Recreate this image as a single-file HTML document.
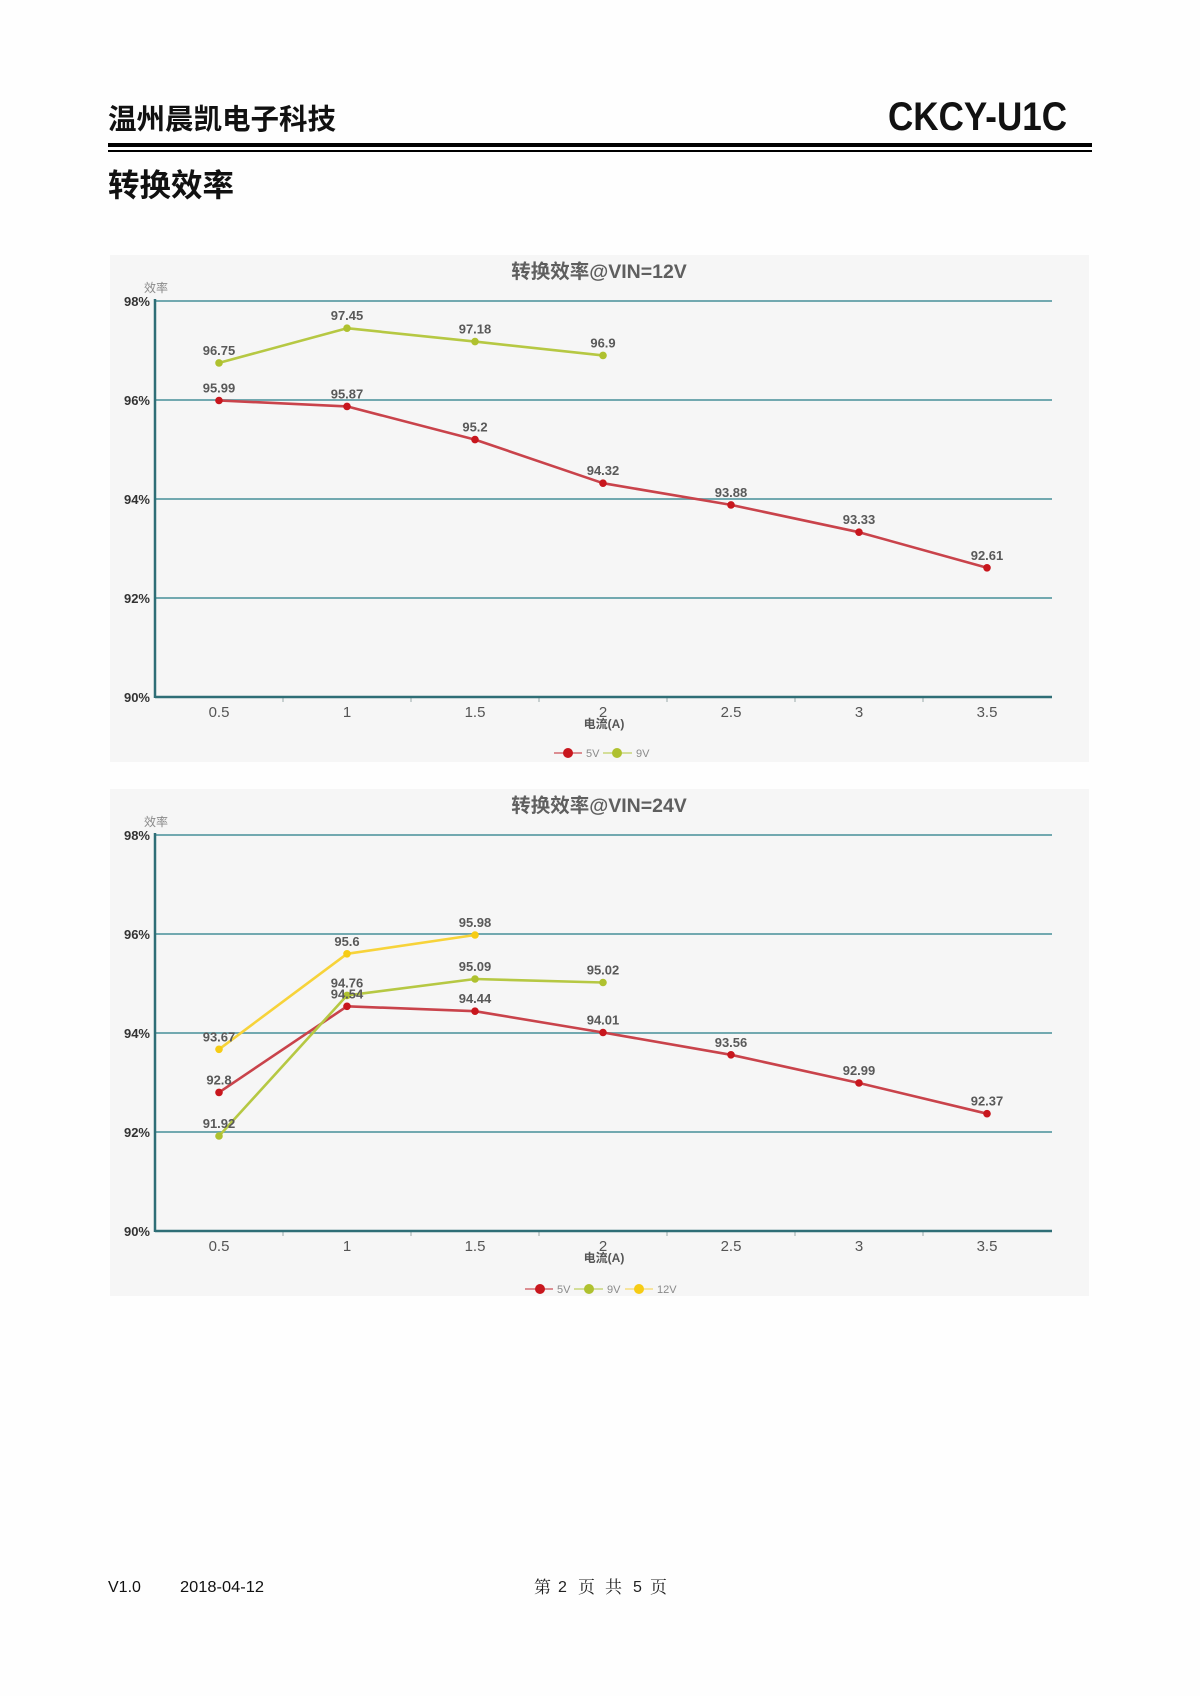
<!DOCTYPE html>
<html>
<head>
<meta charset="utf-8">
<style>
  html,body{margin:0;padding:0;background:#fefefe;}
  body{width:1200px;height:1696px;overflow:hidden;}
  svg{display:block;}
</style>
</head>
<body>
<svg width="1200" height="1696" viewBox="0 0 1200 1696" xmlns="http://www.w3.org/2000/svg" font-family="Liberation Sans, Noto Sans CJK SC, sans-serif">
  <rect x="0" y="0" width="1200" height="1696" fill="#fefefe"/>

  <!-- Header -->
  <text x="108" y="129" font-size="28.5" font-weight="700" fill="#111" font-family="Noto Sans CJK SC, sans-serif">温州晨凯电子科技</text>
  <text x="888" y="130" font-size="40" font-weight="700" fill="#111" textLength="179" lengthAdjust="spacingAndGlyphs">CKCY-U1C</text>
  <rect x="108" y="143" width="984" height="4" fill="#000"/>
  <rect x="108" y="150" width="984" height="2" fill="#000"/>
  <text x="108" y="196" font-size="31.5" font-weight="700" fill="#111" font-family="Noto Sans CJK SC, sans-serif">转换效率</text>

  <!-- ============ CHART 1 ============ -->
  <rect x="110" y="255" width="979" height="507" fill="#f6f6f6"/>
  <text x="599" y="278" font-size="19.5" font-weight="700" fill="#5f5f5f" text-anchor="middle">转换效率@VIN=12V</text>
  <text x="156" y="292" font-size="12" fill="#8a8a8a" text-anchor="middle" font-family="Noto Sans CJK SC, sans-serif">效率</text>
  <g stroke="#72a9b0" stroke-width="2">
    <line x1="155" y1="301" x2="1052" y2="301"/>
    <line x1="155" y1="400" x2="1052" y2="400"/>
    <line x1="155" y1="499" x2="1052" y2="499"/>
    <line x1="155" y1="598" x2="1052" y2="598"/>
  </g>
  <g font-size="13" font-weight="700" fill="#333" text-anchor="end">
    <text x="150" y="306">98%</text>
    <text x="150" y="405">96%</text>
    <text x="150" y="504">94%</text>
    <text x="150" y="603">92%</text>
    <text x="150" y="702">90%</text>
  </g>
  <g stroke="#9aa" stroke-width="1">
    <line x1="283" y1="697" x2="283" y2="702"/>
    <line x1="411" y1="697" x2="411" y2="702"/>
    <line x1="539" y1="697" x2="539" y2="702"/>
    <line x1="667" y1="697" x2="667" y2="702"/>
    <line x1="795" y1="697" x2="795" y2="702"/>
    <line x1="923" y1="697" x2="923" y2="702"/>
  </g>
  <line x1="155" y1="697" x2="1052" y2="697" stroke="#2f6e76" stroke-width="2.5"/>
  <line x1="155" y1="299" x2="155" y2="698" stroke="#2f6e76" stroke-width="2.5"/>
  <g font-size="15" fill="#555" text-anchor="middle">
    <text x="219" y="717">0.5</text>
    <text x="347" y="717">1</text>
    <text x="475" y="717">1.5</text>
    <text x="603" y="717">2</text>
    <text x="731" y="717">2.5</text>
    <text x="859" y="717">3</text>
    <text x="987" y="717">3.5</text>
  </g>
  <text x="604" y="728" font-size="12" font-weight="700" fill="#555" text-anchor="middle">电流(A)</text>

  <polyline fill="none" stroke="#c9434b" stroke-width="2.6" stroke-linejoin="round"
    points="219,400.5 347,406.4 475,439.6 603,483.2 731,504.9 859,532.2 987,567.8"/>
  <polyline fill="none" stroke="#b6c843" stroke-width="2.6" stroke-linejoin="round"
    points="219,362.9 347,328.2 475,341.6 603,355.4"/>
  <g fill="#c8161d">
    <circle cx="219" cy="400.5" r="3.8"/><circle cx="347" cy="406.4" r="3.8"/><circle cx="475" cy="439.6" r="3.8"/>
    <circle cx="603" cy="483.2" r="3.8"/><circle cx="731" cy="504.9" r="3.8"/><circle cx="859" cy="532.2" r="3.8"/>
    <circle cx="987" cy="567.8" r="3.8"/>
  </g>
  <g fill="#afc12f">
    <circle cx="219" cy="362.9" r="3.8"/><circle cx="347" cy="328.2" r="3.8"/><circle cx="475" cy="341.6" r="3.8"/>
    <circle cx="603" cy="355.4" r="3.8"/>
  </g>
  <g font-size="13" font-weight="700" fill="#595959" text-anchor="middle">
    <text x="219" y="392.5">95.99</text>
    <text x="347" y="398.4">95.87</text>
    <text x="475" y="431.6">95.2</text>
    <text x="603" y="475.2">94.32</text>
    <text x="731" y="496.9">93.88</text>
    <text x="859" y="524.2">93.33</text>
    <text x="987" y="559.8">92.61</text>
    <text x="219" y="354.9">96.75</text>
    <text x="347" y="320.2">97.45</text>
    <text x="475" y="333.6">97.18</text>
    <text x="603" y="347.4">96.9</text>
  </g>
  <line x1="554" y1="753" x2="582" y2="753" stroke="#d36b70" stroke-width="1.5"/>
  <circle cx="568" cy="753" r="5" fill="#c8161d"/>
  <text x="586" y="757" font-size="11" fill="#8a8a8a">5V</text>
  <line x1="603" y1="753" x2="632" y2="753" stroke="#c8d67a" stroke-width="1.5"/>
  <circle cx="617" cy="753" r="5" fill="#afc12f"/>
  <text x="636" y="757" font-size="11" fill="#8a8a8a">9V</text>

  <!-- ============ CHART 2 ============ -->
  <rect x="110" y="789" width="979" height="507" fill="#f6f6f6"/>
  <text x="599" y="812" font-size="19.5" font-weight="700" fill="#5f5f5f" text-anchor="middle">转换效率@VIN=24V</text>
  <text x="156" y="826" font-size="12" fill="#8a8a8a" text-anchor="middle" font-family="Noto Sans CJK SC, sans-serif">效率</text>
  <g stroke="#72a9b0" stroke-width="2">
    <line x1="155" y1="835" x2="1052" y2="835"/>
    <line x1="155" y1="934" x2="1052" y2="934"/>
    <line x1="155" y1="1033" x2="1052" y2="1033"/>
    <line x1="155" y1="1132" x2="1052" y2="1132"/>
  </g>
  <g font-size="13" font-weight="700" fill="#333" text-anchor="end">
    <text x="150" y="840">98%</text>
    <text x="150" y="939">96%</text>
    <text x="150" y="1038">94%</text>
    <text x="150" y="1137">92%</text>
    <text x="150" y="1236">90%</text>
  </g>
  <g stroke="#9aa" stroke-width="1">
    <line x1="283" y1="1231" x2="283" y2="1236"/>
    <line x1="411" y1="1231" x2="411" y2="1236"/>
    <line x1="539" y1="1231" x2="539" y2="1236"/>
    <line x1="667" y1="1231" x2="667" y2="1236"/>
    <line x1="795" y1="1231" x2="795" y2="1236"/>
    <line x1="923" y1="1231" x2="923" y2="1236"/>
  </g>
  <line x1="155" y1="1231" x2="1052" y2="1231" stroke="#2f6e76" stroke-width="2.5"/>
  <line x1="155" y1="833" x2="155" y2="1232" stroke="#2f6e76" stroke-width="2.5"/>
  <g font-size="15" fill="#555" text-anchor="middle">
    <text x="219" y="1251">0.5</text>
    <text x="347" y="1251">1</text>
    <text x="475" y="1251">1.5</text>
    <text x="603" y="1251">2</text>
    <text x="731" y="1251">2.5</text>
    <text x="859" y="1251">3</text>
    <text x="987" y="1251">3.5</text>
  </g>
  <text x="604" y="1262" font-size="12" font-weight="700" fill="#555" text-anchor="middle">电流(A)</text>

  <polyline fill="none" stroke="#c9434b" stroke-width="2.6" stroke-linejoin="round"
    points="219,1092.4 347,1006.3 475,1011.2 603,1032.5 731,1054.8 859,1083 987,1113.7"/>
  <polyline fill="none" stroke="#b6c843" stroke-width="2.6" stroke-linejoin="round"
    points="219,1136 347,995.4 475,979 603,982.5"/>
  <polyline fill="none" stroke="#f7d33a" stroke-width="2.6" stroke-linejoin="round"
    points="219,1049.3 347,953.8 475,935"/>
  <g fill="#c8161d">
    <circle cx="219" cy="1092.4" r="3.8"/><circle cx="347" cy="1006.3" r="3.8"/><circle cx="475" cy="1011.2" r="3.8"/>
    <circle cx="603" cy="1032.5" r="3.8"/><circle cx="731" cy="1054.8" r="3.8"/><circle cx="859" cy="1083" r="3.8"/>
    <circle cx="987" cy="1113.7" r="3.8"/>
  </g>
  <g fill="#afc12f">
    <circle cx="219" cy="1136" r="3.8"/><circle cx="347" cy="995.4" r="3.8"/><circle cx="475" cy="979" r="3.8"/>
    <circle cx="603" cy="982.5" r="3.8"/>
  </g>
  <g fill="#f6cc15">
    <circle cx="219" cy="1049.3" r="3.8"/><circle cx="347" cy="953.8" r="3.8"/><circle cx="475" cy="935" r="3.8"/>
  </g>
  <g font-size="13" font-weight="700" fill="#595959" text-anchor="middle">
    <text x="219" y="1084.4">92.8</text>
    <text x="347" y="998.3">94.54</text>
    <text x="475" y="1003.2">94.44</text>
    <text x="603" y="1024.5">94.01</text>
    <text x="731" y="1046.8">93.56</text>
    <text x="859" y="1075">92.99</text>
    <text x="987" y="1105.7">92.37</text>
    <text x="219" y="1128">91.92</text>
    <text x="347" y="987.4">94.76</text>
    <text x="475" y="971">95.09</text>
    <text x="603" y="974.5">95.02</text>
    <text x="219" y="1041.3">93.67</text>
    <text x="347" y="945.8">95.6</text>
    <text x="475" y="927">95.98</text>
  </g>
  <line x1="525" y1="1289" x2="553" y2="1289" stroke="#d36b70" stroke-width="1.5"/>
  <circle cx="540" cy="1289" r="5" fill="#c8161d"/>
  <text x="557" y="1293" font-size="11" fill="#8a8a8a">5V</text>
  <line x1="574" y1="1289" x2="603" y2="1289" stroke="#c8d67a" stroke-width="1.5"/>
  <circle cx="589" cy="1289" r="5" fill="#afc12f"/>
  <text x="607" y="1293" font-size="11" fill="#8a8a8a">9V</text>
  <line x1="625" y1="1289" x2="653" y2="1289" stroke="#f5de80" stroke-width="1.5"/>
  <circle cx="639" cy="1289" r="5" fill="#f6cc15"/>
  <text x="657" y="1293" font-size="11" fill="#8a8a8a">12V</text>

  <!-- Footer -->
  <g font-size="16" fill="#111">
    <text x="108" y="1592">V1.0</text>
    <text x="180" y="1592" textLength="84" lengthAdjust="spacingAndGlyphs">2018-04-12</text>
  </g>
  <g font-size="17" fill="#222" font-family="Noto Serif CJK SC, serif">
    <text x="534" y="1593">第</text>
    <text x="578" y="1593">页</text>
    <text x="605" y="1593">共</text>
    <text x="650" y="1593">页</text>
  </g>
  <g font-size="16" fill="#222">
    <text x="558" y="1592">2</text>
    <text x="633" y="1592">5</text>
  </g>
</svg>
</body>
</html>
